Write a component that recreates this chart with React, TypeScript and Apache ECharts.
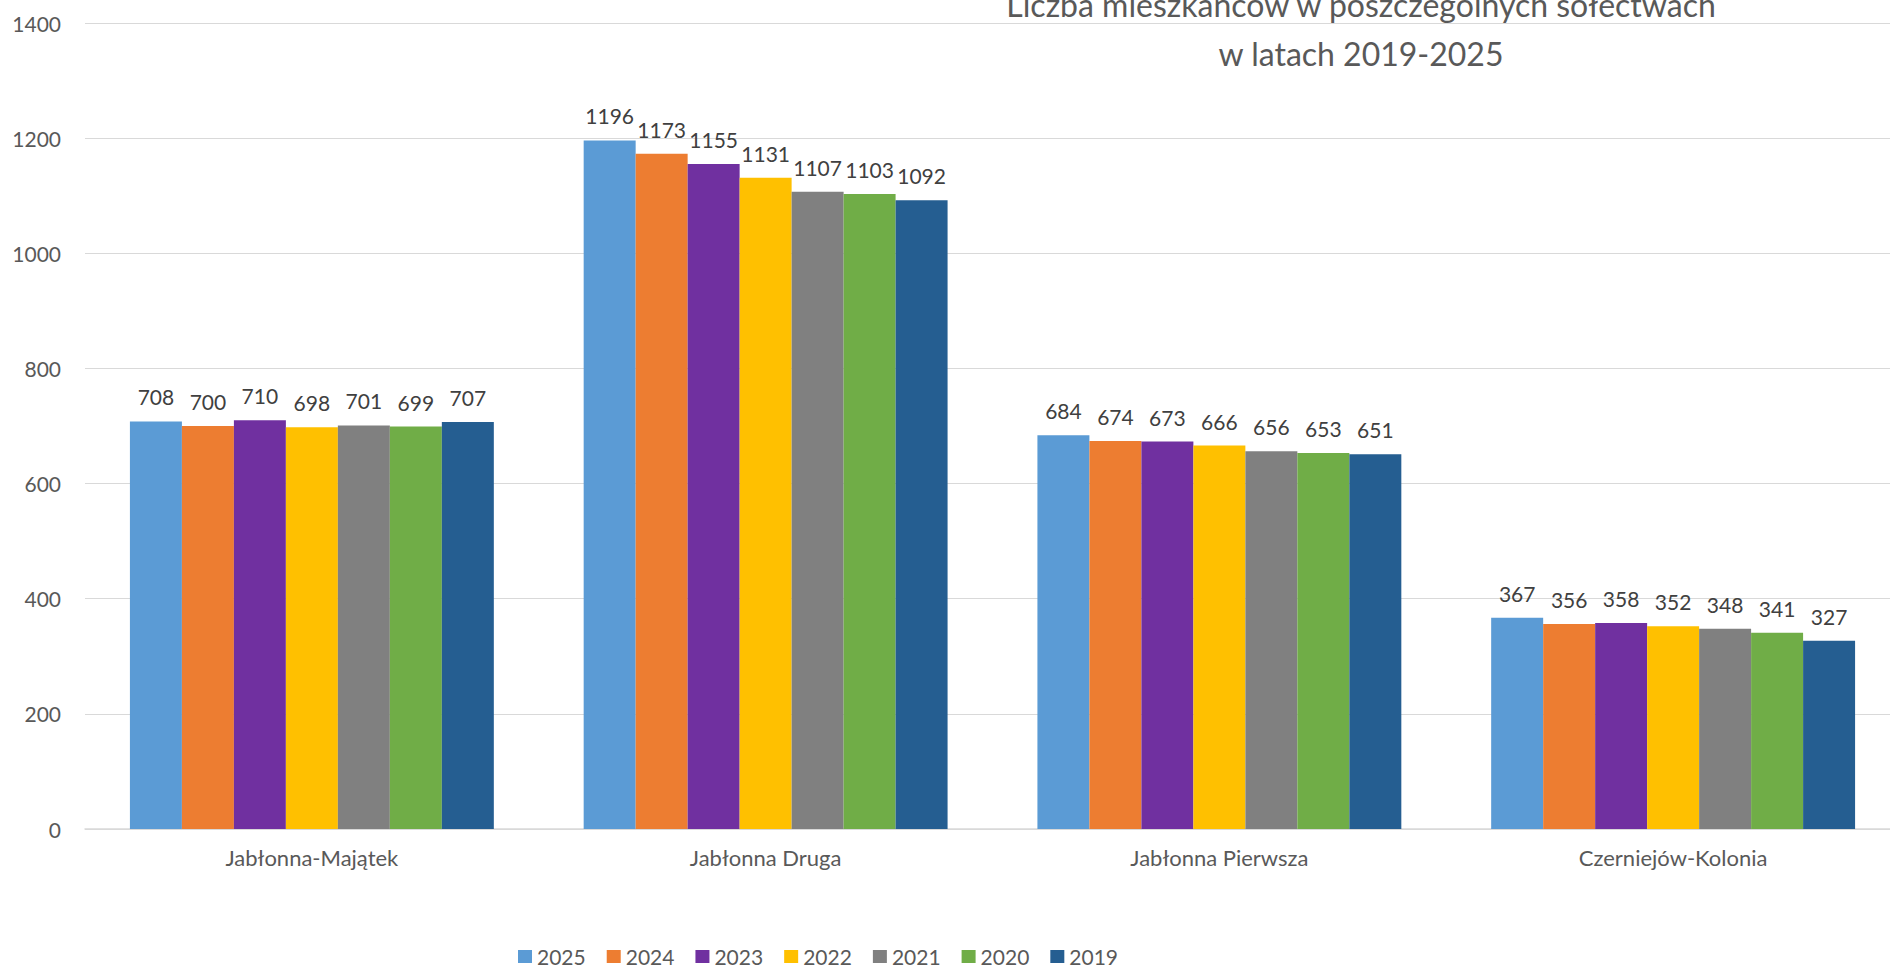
import React, { useEffect, useRef } from "react";
import * as echarts from "echarts";

const categories = ["Jabłonna-Majątek", "Jabłonna Druga", "Jabłonna Pierwsza", "Czerniejów-Kolonia"];
const years = ["2025", "2024", "2023", "2022", "2021", "2020", "2019"];
const v2025 = [708, 1196, 684, 367];
const v2024 = [700, 1173, 674, 356];
const v2023 = [710, 1155, 673, 358];
const v2022 = [698, 1131, 666, 352];
const v2021 = [701, 1107, 656, 348];
const v2020 = [699, 1103, 653, 341];
const v2019 = [707, 1092, 651, 327];
const seriesValues = [v2025, v2024, v2023, v2022, v2021, v2020, v2019];
const colors = ["#5B9BD5", "#ED7D31", "#7030A0", "#FFC000", "#808080", "#70AD47", "#255E91"];
const titleLines = ["Liczba mieszkańców w poszczególnych sołectwach", "w latach 2019-2025"];

const FONT = "Lato";

export default function App() {
  const ref = useRef<HTMLDivElement>(null);
  useEffect(() => {
    if (!ref.current) return;
    const chart = echarts.init(ref.current, null, { renderer: "svg" });
    chart.setOption({
      animation: false,
      backgroundColor: "#ffffff",
      textStyle: { fontFamily: FONT },
      graphic: [
        {
          type: "text",
          x: 1361,
          y: 4,
          silent: true,
          style: {
            text: titleLines[0],
            fontFamily: FONT,
            fontSize: 32,
            fill: "#595959",
            align: "center",
            verticalAlign: "middle",
          },
        },
        {
          type: "text",
          x: 1361,
          y: 53,
          silent: true,
          style: {
            text: titleLines[1],
            fontFamily: FONT,
            fontSize: 32,
            fill: "#595959",
            align: "center",
            verticalAlign: "middle",
          },
        },
      ],
      legend: {
        data: years,
        left: 518,
        top: 946,
        padding: 0,
        itemWidth: 14,
        itemHeight: 13,
        itemGap: 21,
        icon: "rect",
        textStyle: { fontFamily: FONT, fontSize: 21, lineHeight: 16, color: "#595959" },
      },
      grid: {
        left: 85,
        right: -10,
        top: 23,
        bottom: 141,
        outerBoundsMode: "none",
        containLabel: false,
      },
      xAxis: {
        type: "category",
        data: categories,
        axisTick: { show: false },
        axisLine: { lineStyle: { color: "#d9d9d9", width: 1.5 } },
        axisLabel: { fontFamily: FONT, fontSize: 22, color: "#595959", margin: 17 },
      },
      yAxis: {
        type: "value",
        min: 0,
        max: 1400,
        interval: 200,
        axisLine: { show: false },
        axisTick: { show: false },
        splitLine: { lineStyle: { color: "#d9d9d9", width: 1 } },
        axisLabel: {
          fontFamily: FONT,
          fontSize: 21,
          color: "#595959",
          margin: 24,
          formatter: (v: number) => String(v),
        },
      },
      series: years.map((y, i) => ({
        name: y,
        type: "bar",
        data: seriesValues[i],
        barGap: "0%",
        barCategoryGap: "19.8%",
        itemStyle: { color: colors[i] },
        label: {
          show: true,
          position: "top",
          distance: 14,
          fontFamily: FONT,
          fontSize: 21,
          color: "#404040",
        },
      })),
    });
    return () => chart.dispose();
  }, []);
  return (
    <div
      ref={ref}
      style={{ position: "fixed", left: 0, top: 0, width: 1890, height: 970 }}
    />
  );
}
